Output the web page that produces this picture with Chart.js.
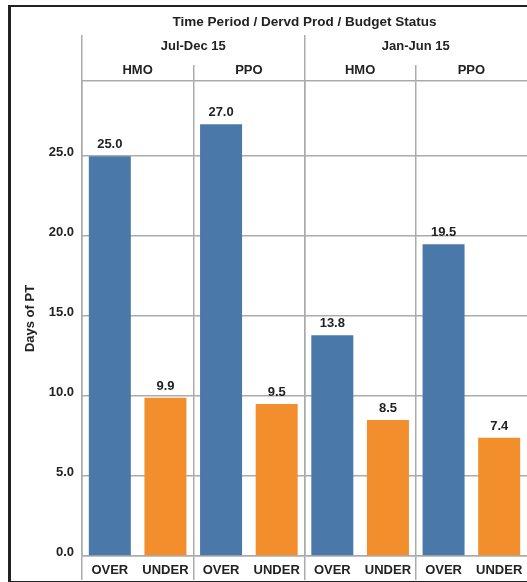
<!DOCTYPE html>
<html>
<head>
<meta charset="utf-8">
<script src="https://cdn.jsdelivr.net/npm/chart.js@4/dist/chart.umd.min.js"></script>
<style>
  html, body { margin: 0; padding: 0; background: #fff; overflow: hidden; }
  #frame {
    position: absolute; left: 8px; top: 5px; width: 600px; height: 574px;
    border-left: 3px solid #222; border-top: 2px solid #222; border-bottom: 2px solid #222;
  }
  #wrap { position: absolute; left: 0; top: 0; width: 527px; height: 582px; }
</style>
</head>
<body>
<div id="frame"></div>
<div id="wrap"><canvas id="chart" width="527" height="582"></canvas></div>
<script>
// Bars: one per period / product / budget status
const statusLabels = ['OVER', 'UNDER', 'OVER', 'UNDER', 'OVER', 'UNDER', 'OVER', 'UNDER'];
const productLabels = ['HMO', 'PPO', 'HMO', 'PPO'];
const periodLabels = ['Jul-Dec 15', 'Jan-Jun 15'];
const daysOfPT = [25.0, 9.9, 27.0, 9.5, 13.8, 8.5, 19.5, 7.4];
const yTickValues = [0, 5, 10, 15, 20, 25];

const BLUE = '#4a78a9';
const ORANGE = '#f28e2b';
const GRID = '#ababab';
const TEXT = '#222';
const FONT = { family: "'Liberation Sans', Arial, sans-serif", size: 13, weight: 'bold' };
const HEAD_FONT = { family: "'Liberation Sans', Arial, sans-serif", size: 13.5, weight: 'bold' };

const barColors = statusLabels.map(s => (s === 'OVER' ? BLUE : ORANGE));

// Separator colour: only at real tick boundaries, never at the right edge
const groupLine = ctx => (ctx.type === 'tick' ? GRID : 'rgba(0,0,0,0)');
const pairLine = ctx => (ctx.type === 'tick' && ctx.index % 2 === 0 ? GRID : 'rgba(0,0,0,0)');

// Value labels above each bar
const valueLabels = {
  id: 'valueLabels',
  afterDatasetsDraw(chart) {
    const { ctx } = chart;
    const meta = chart.getDatasetMeta(0);
    ctx.save();
    ctx.font = `bold ${FONT.size}px ${FONT.family}`;
    ctx.fillStyle = TEXT;
    ctx.textAlign = 'center';
    ctx.textBaseline = 'bottom';
    meta.data.forEach((bar, i) => {
      ctx.fillText(daysOfPT[i].toFixed(1), bar.x, bar.y - 5);
    });
    ctx.restore();
  }
};

new Chart(document.getElementById('chart'), {
  type: 'bar',
  data: {
    labels: statusLabels,
    datasets: [{
      data: daysOfPT,
      backgroundColor: barColors,
      borderWidth: 0,
      barPercentage: 0.755,
      categoryPercentage: 1.0
    }]
  },
  options: {
    responsive: false,
    animation: false,
    layout: { padding: { top: 8, bottom: 2, left: 14, right: 0 } },
    plugins: {
      legend: { display: false },
      tooltip: { enabled: false }
    },
    scales: {
      x: {
        position: 'bottom',
        offset: true,
        grid: { offset: true, drawOnChartArea: false, drawTicks: true, tickLength: 24, color: pairLine, lineWidth: 1.5 },
        border: { display: true, color: GRID, width: 1.5 },
        ticks: { font: FONT, color: TEXT, padding: -17.8, autoSkip: false, maxRotation: 0 },
        afterFit(scale) { scale.height = 24; }
      },
      xProd: {
        type: 'category',
        position: 'top',
        labels: productLabels,
        offset: true,
        weight: 0,
        grid: { offset: true, drawOnChartArea: true, drawTicks: true, tickLength: 16, color: groupLine, lineWidth: 1.5 },
        border: { display: true, color: GRID, width: 1.5 },
        ticks: { font: FONT, color: TEXT, padding: -12.8, autoSkip: false, maxRotation: 0 },
        afterFit(scale) { scale.height = 16; }
      },
      xPeriod: {
        type: 'category',
        position: 'top',
        labels: periodLabels,
        offset: true,
        weight: 1,
        grid: { offset: true, drawOnChartArea: true, drawTicks: true, tickLength: 30, color: groupLine, lineWidth: 1.5 },
        border: { display: false },
        ticks: { font: FONT, color: TEXT, padding: -18.8, autoSkip: false, maxRotation: 0 },
        title: {
          display: true,
          text: 'Time Period / Dervd Prod / Budget Status',
          font: HEAD_FONT,
          color: TEXT,
          padding: { top: 5.9, bottom: 0 }
        },
        afterFit(scale) { scale.height = 57; }
      },
      y: {
        type: 'linear',
        min: 0,
        max: 29.7,
        afterBuildTicks(scale) {
          scale.ticks = yTickValues.map(v => ({ value: v }));
        },
        grid: { color: GRID, lineWidth: 1.5, drawTicks: false },
        border: { display: false },
        ticks: {
          font: FONT,
          color: TEXT,
          padding: 8,
          labelOffset: -4,
          callback: v => Number(v).toFixed(1)
        },
        title: {
          display: true,
          text: 'Days of PT',
          font: FONT,
          color: TEXT,
          padding: { top: 8.2, bottom: 0 }
        },
        afterFit(scale) { scale.width = 68; }
      }
    }
  },
  plugins: [valueLabels]
});
</script>
</body>
</html>
